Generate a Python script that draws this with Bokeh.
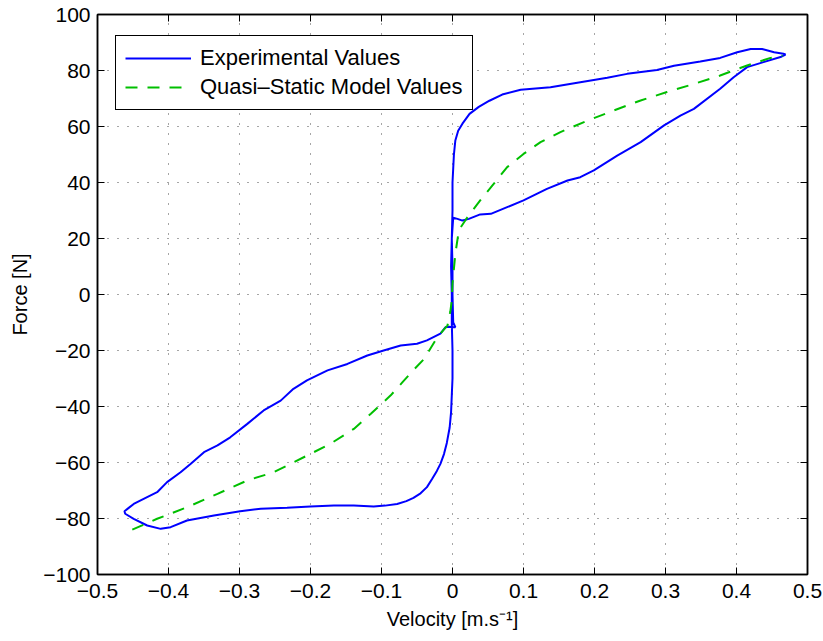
from bokeh.plotting import figure
from bokeh.models import LinearAxis, FixedTicker, Range1d, Legend, LegendItem
from bokeh.embed import file_html
from bokeh.resources import INLINE

FONT = "Liberation Sans"
TICK_FS = "21px"
LABEL_FS = "20px"
LEGEND_FS = "22px"

# Measured force–velocity loop (one continuous trace)
exp_velocity = [
    0.001, 0.007, 0.014, 0.023, 0.039, 0.054, 0.077, 0.100, 0.133, 0.162,
    0.180, 0.199, 0.232, 0.265, 0.298, 0.321, 0.340, 0.377, 0.396, 0.415,
    0.438, 0.462, 0.469, 0.466, 0.453, 0.436, 0.420, 0.401, 0.377, 0.349,
    0.312, 0.288, 0.246, 0.218, 0.180, 0.138, 0.096, 0.070, 0.052, 0.037,
    0.024, 0.014, 0.008, 0.004, 0.002, 0.001, 0.000, 0.000, -0.001, -0.002,
    -0.001, -0.001, 0.000, 0.000, -0.001, -0.002, -0.004, -0.008, -0.012, -0.017,
    -0.022, -0.029, -0.036, -0.045, -0.055, -0.065, -0.078, -0.095, -0.111, -0.139,
    -0.167, -0.200, -0.233, -0.270, -0.299, -0.336, -0.374, -0.397, -0.411, -0.430,
    -0.449, -0.461, -0.462, -0.456, -0.449, -0.435, -0.416, -0.402, -0.383, -0.369,
    -0.350, -0.331, -0.313, -0.289, -0.266, -0.242, -0.224, -0.205, -0.176, -0.148,
    -0.120, -0.097, -0.073, -0.050, -0.036, -0.017, -0.010, -0.005, 0.000, 0.004,
    0.001, 0.000, 0.000, -0.001, 0.001,
]
exp_force = [
    27.4, 27.0, 26.4, 27.0, 28.6, 28.8, 31.2, 33.6, 37.7, 40.7,
    41.9, 44.3, 49.6, 54.4, 60.4, 63.9, 66.3, 73.5, 77.6, 81.2,
    83.0, 84.8, 85.7, 86.0, 86.5, 87.7, 87.7, 86.5, 84.5, 83.2,
    81.7, 80.2, 78.8, 77.4, 75.8, 74.0, 73.1, 71.4, 69.2, 67.0,
    64.5, 61.0, 58.5, 55.0, 50.0, 45.0, 40.0, 30.0, 20.0, 10.0,
    0.0, -10.0, -20.0, -30.0, -36.0, -42.0, -47.5, -53.0, -57.0, -60.5,
    -63.0, -66.0, -68.8, -71.0, -72.6, -73.8, -74.8, -75.4, -75.7, -75.4,
    -75.4, -75.7, -76.2, -76.5, -77.4, -78.9, -80.7, -83.1, -83.7, -82.5,
    -80.1, -78.3, -77.4, -76.2, -74.8, -73.0, -70.6, -67.0, -63.5, -60.5,
    -56.3, -53.9, -51.0, -46.2, -41.4, -37.9, -33.7, -30.7, -27.1, -24.8,
    -21.8, -20.0, -18.2, -17.6, -16.4, -14.0, -11.7, -11.5, -11.7, -11.7,
    -10.0, 0.0, 10.0, 20.0, 27.4,
]

# Quasi-static model prediction
model_velocity = [
    -0.451, -0.416, -0.374, -0.331, -0.289, -0.252, -0.228, -0.200, -0.172, -0.139,
    -0.115, -0.087, -0.071, -0.055, -0.040, -0.022, -0.007, -0.003, -0.001, 0.000,
    0.004, 0.009, 0.021, 0.039, 0.058, 0.077, 0.100, 0.124, 0.152, 0.190,
    0.227, 0.265, 0.302, 0.340, 0.377, 0.415, 0.448, 0.465,
]
model_force = [
    -84.0, -80.1, -76.0, -71.2, -66.4, -63.5, -60.5, -56.9, -53.3, -48.0,
    -42.6, -36.0, -31.5, -27.0, -23.0, -15.5, -11.0, -6.0, -2.0, 4.0,
    14.5, 23.0, 27.6, 33.6, 39.5, 45.5, 50.2, 54.4, 58.0, 62.1,
    65.7, 69.3, 72.3, 75.2, 78.2, 81.8, 84.5, 85.3,
]

x_ticks = [-0.5, -0.4, -0.3, -0.2, -0.1, 0.0, 0.1, 0.2, 0.3, 0.4, 0.5]
x_tick_labels = ["\u22120.5", "\u22120.4", "\u22120.3", "\u22120.2", "\u22120.1",
                 "0", "0.1", "0.2", "0.3", "0.4", "0.5"]
y_ticks = [-100, -80, -60, -40, -20, 0, 20, 40, 60, 80, 100]
y_tick_labels = ["\u2212100", "\u221280", "\u221260", "\u221240", "\u221220",
                 "0", "20", "40", "60", "80", "100"]

p = figure(
    width=823, height=641,
    x_range=Range1d(-0.5, 0.5), y_range=Range1d(-100, 100),
    output_backend="svg", toolbar_location=None,
    min_border_left=97, min_border_right=16,
    min_border_top=14, min_border_bottom=67,
)
p.background_fill_color = "white"
p.border_fill_color = "white"
p.outline_line_color = "black"
p.outline_line_width = 1.5

def style_axis(ax, ticks, labels=None):
    ax.ticker = FixedTicker(ticks=ticks)
    ax.major_tick_in = 7
    ax.major_tick_out = 0
    ax.minor_tick_line_color = None
    ax.axis_line_color = "black"
    ax.axis_line_width = 1.5
    ax.major_tick_line_color = "black"
    ax.major_tick_line_width = 1
    ax.major_label_text_font = FONT
    if labels is not None:
        ax.major_label_text_color = "black"
        ax.major_label_text_font_size = TICK_FS
        ax.major_label_overrides = dict(zip(ticks, labels))
    else:
        # frame-side axes: ticks only
        ax.major_label_text_color = None
        ax.major_label_text_font_size = "1px"
        ax.major_label_standoff = 0

xa = p.xaxis[0]
ya = p.yaxis[0]
style_axis(xa, x_ticks, x_tick_labels)
style_axis(ya, y_ticks, y_tick_labels)
xa.major_label_standoff = 9
ya.major_label_standoff = 7

xa.axis_label = "Velocity [m.s\u207b\u00b9]"
ya.axis_label = "Force [N]"
for ax in (xa, ya):
    ax.axis_label_text_font = FONT
    ax.axis_label_text_font_size = LABEL_FS
    ax.axis_label_text_font_style = "normal"
    ax.axis_label_text_color = "black"
xa.axis_label_standoff = 7
ya.axis_label_standoff = 9

top_axis = LinearAxis()
right_axis = LinearAxis()
style_axis(top_axis, x_ticks)
style_axis(right_axis, y_ticks)
p.add_layout(top_axis, "above")
p.add_layout(right_axis, "right")

p.xgrid.ticker = FixedTicker(ticks=x_ticks)
p.ygrid.ticker = FixedTicker(ticks=y_ticks)
p.grid.grid_line_color = "black"
p.grid.grid_line_alpha = 0.7
p.grid.grid_line_width = 1
p.grid.grid_line_dash = "1 9"

exp_line = p.line(exp_velocity, exp_force, line_color="#0000FF", line_width=2)
model_line = p.line(model_velocity, model_force, line_color="#00BF00",
                    line_width=2, line_dash="12 10")

legend = Legend(
    items=[
        LegendItem(label="Experimental Values", renderers=[exp_line]),
        LegendItem(label="Quasi\u2013Static Model Values", renderers=[model_line]),
    ],
    location=(18, 464),
    orientation="vertical",
    padding=9, spacing=3, margin=0,
    glyph_width=66, glyph_height=24, label_height=24, label_standoff=9,
    label_text_font=FONT, label_text_font_size=LEGEND_FS, label_text_color="black",
    border_line_color="black", border_line_width=1.5, border_line_alpha=1,
    background_fill_color="white", background_fill_alpha=1,
)
p.add_layout(legend, "center")

open("out.html", "w").write(file_html(p, INLINE))
